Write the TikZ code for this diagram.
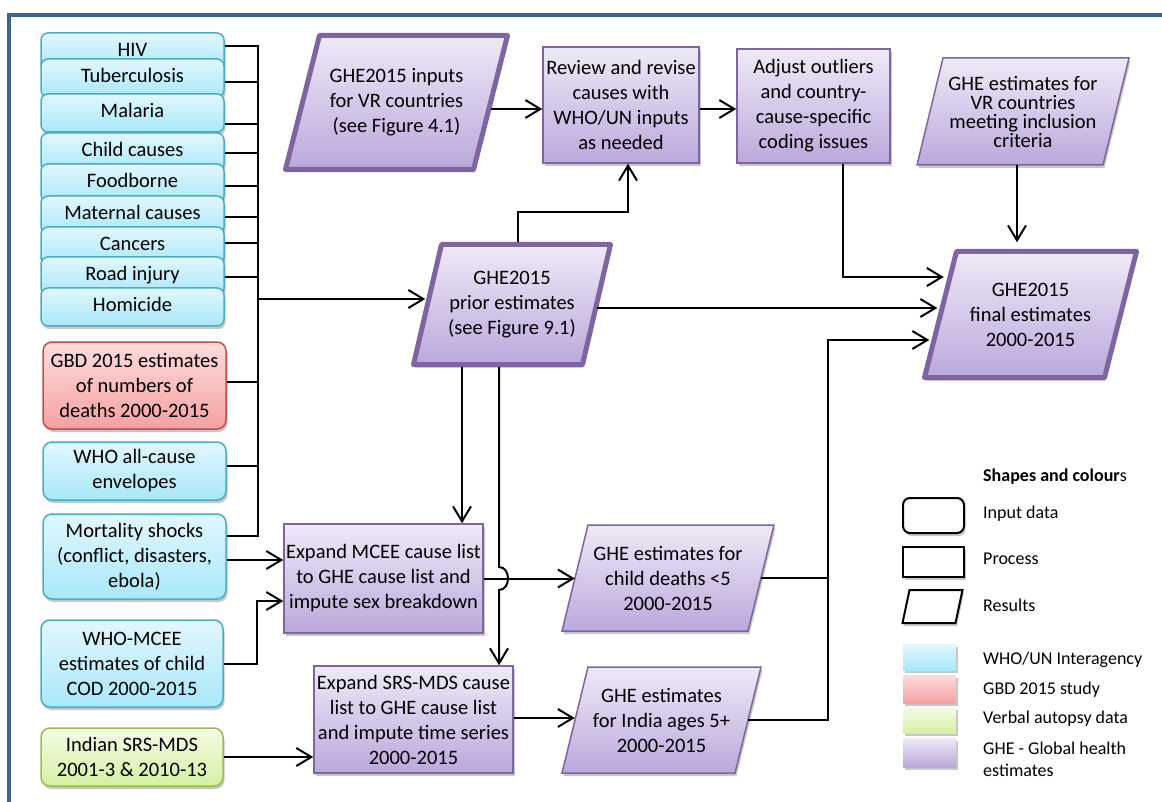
\documentclass[tikz,border=0pt]{standalone}
\usepackage{fontspec}
\setmainfont{Carlito}
\usetikzlibrary{arrows.meta,shadows,calc}
\definecolor{bluetop}{HTML}{E2F7FE}
\definecolor{bluebot}{HTML}{A8E8FA}
\definecolor{blueborder}{HTML}{4BACC6}
\definecolor{redtop}{HTML}{FFDCDC}
\definecolor{redbot}{HTML}{F4A1A1}
\definecolor{redborder}{HTML}{C0504D}
\definecolor{greentop}{HTML}{F4FCE6}
\definecolor{greenbot}{HTML}{D5F0A2}
\definecolor{greenborder}{HTML}{9BBB59}
\definecolor{purptop}{HTML}{EEEAF7}
\definecolor{purpbot}{HTML}{BBA8DC}
\definecolor{purpborder}{HTML}{8064A2}
\definecolor{framecol}{HTML}{3E6393}
\newcommand\mainsz{\fontsize{20.5}{25}\selectfont}
\newcommand\vrsz{\fontsize{20.5}{19}\selectfont}
\newcommand\legsz{\fontsize{18}{22}\selectfont}
% #1 path style, #2 node options, #3 name, #4 cx, #5 cy, #6 side, #7 height, #8 skew, #9 text
\newcommand\paranode[9]{%
  \path[#1] ({#4-#6/2+#8/2},{#5-#7/2}) -- ++(#6,0) -- ++(-#8,#7) -- ++(-#6,0) -- cycle;
  \node[base, minimum width=#6, minimum height=#7, #2] (#3) at (#4,#5) {#9};
}
\tikzset{
  base/.style={align=center, inner sep=0pt, font=\mainsz},
  shad/.style={drop shadow={shadow xshift=1.5pt, shadow yshift=-3pt, opacity=0.22, fill=black}},
  inbox/.style={base, rounded corners=9pt, line width=1.5pt, shad},
  bluebox/.style={inbox, draw=blueborder, top color=bluetop, bottom color=bluebot},
  redbox/.style={inbox, draw=redborder, top color=redtop, bottom color=redbot},
  greenbox/.style={inbox, draw=greenborder, top color=greentop, bottom color=greenbot},
  stackbox/.style={bluebox, rounded corners=7pt, minimum width=183, minimum height=38, text height=14pt, text depth=5pt},
  procbox/.style={base, draw=purpborder, line width=1.5pt, top color=purptop, bottom color=purpbot, shad},
  thickpara/.style={draw=purpborder, line width=5pt, line join=round, top color=purptop, bottom color=purpbot, shad},
  thinpara/.style={draw=purpborder, line width=1.5pt, top color=purptop, bottom color=purpbot, shad},
  conn/.style={line width=2pt, black},
  arr/.style={conn, -{Straight Barb[length=15pt,width=18pt,line width=2pt]}},
  frame/.style={line width=4pt, framecol},
  legshape/.style={draw=black, line width=2pt, fill=white, inner sep=0pt, shad},
  legpara/.style={draw=black, line width=2pt, fill=white, shad},
  leglabel/.style={font=\legsz, anchor=west, inner sep=0pt},
  swatch/.style={inner sep=0pt, minimum width=53, shad},
}
\begin{document}
\begin{tikzpicture}[x=1pt,y=-1pt]
\useasboundingbox (0,0) rectangle (1162,802);
\draw[frame] (7,15) -- (1162,15);
\draw[frame] (9,13) -- (9,802);

% ---- input stack
\node[stackbox] (hiv) at (132.5,52) {HIV};
\node[stackbox] (tb) at (132.5,78) {Tuberculosis};
\node[stackbox] (mal) at (132.5,113) {Malaria};
\node[stackbox] (cc) at (132.5,152) {Child causes};
\node[stackbox] (food) at (132.5,183) {Foodborne};
\node[stackbox] (mat) at (132.5,215) {Maternal causes};
\node[stackbox] (canc) at (132.5,246) {Cancers};
\node[stackbox] (road) at (132.5,276) {Road injury};
\node[stackbox] (hom) at (132.5,307) {Homicide};

\node[redbox, minimum width=183, minimum height=87] (gbd) at (134.5,385.5) {GBD 2015 estimates\\of numbers of\\deaths 2000-2015};
\node[bluebox, minimum width=183, minimum height=58] (allc) at (134.5,471) {WHO all-cause\\envelopes};
\node[bluebox, minimum width=183, minimum height=85] (shock) at (134.5,556.5) {Mortality shocks\\(conflict, disasters,\\ebola)};
\node[bluebox, minimum width=182, minimum height=87] (mceein) at (132,663.5) {WHO-MCEE\\estimates of child\\COD 2000-2015};
\node[greenbox, minimum width=182, minimum height=58] (srsin) at (132,757) {Indian SRS-MDS\\2001-3 \& 2010-13};

% ---- process boxes
\node[procbox, minimum width=156, minimum height=116] (review) at (621,105) {Review and revise\\causes with\\WHO/UN inputs\\as needed};
\node[procbox, minimum width=153, minimum height=114] (adjust) at (813.5,106) {Adjust outliers\\and country-\\cause-specific\\coding issues};
\node[procbox, minimum width=199, minimum height=109] (mcee) at (383.5,578.5) {Expand MCEE cause list\\to GHE cause list and\\impute sex breakdown};
\node[procbox, minimum width=199, minimum height=107] (srs) at (413.5,719.5) {Expand SRS-MDS cause\\list to GHE cause list\\and impute time series\\2000-2015};

% ---- results
\paranode{thickpara}{}{inputs}{396.5}{102.5}{188}{134}{34}{GHE2015 inputs\\for VR countries\\(see Figure 4.1)}
\paranode{thickpara}{}{prior}{512}{304.5}{169}{120}{28}{GHE2015\\prior estimates\\(see Figure 9.1)}
\paranode{thickpara}{}{final}{1030.5}{314.5}{180}{126}{32}{GHE2015\\final estimates\\2000-2015}
\paranode{thinpara}{font=\vrsz}{vrmeet}{1023}{111.5}{186}{107}{26}{GHE estimates for\\VR countries\\meeting inclusion\\criteria}
\paranode{thinpara}{}{child}{668}{578}{186}{106}{26}{GHE estimates for\\child deaths <5\\2000-2015}
\paranode{thinpara}{}{india}{661.5}{720}{173}{106}{26}{GHE estimates\\for India ages 5+\\2000-2015}

% ---- connectors
\coordinate (b1) at (258,46);
\coordinate (b2) at (258,536);
\coordinate (bp) at (258,299);
\coordinate (j) at (828,340);
\coordinate (p308) at (597,308);

\draw[conn] (hiv.east |- b1) -- (b1) -- (b2) -- (shock.east |- b2);
\foreach \n/\y in {tb/82, mal/124, cc/153, food/186, mat/217, canc/243, road/277, gbd/382, allc/466}
  \draw[conn] (\n.east |- 0,\y) -- (b1 |- 0,\y);
\draw[arr, shorten >=2pt] (bp) -- (bp -| prior.west);

\draw[arr] (inputs.east |- 0,109) -- (review.west |- 0,109);
\draw[arr] (review.east |- 0,109) -- (adjust.west |- 0,109);
\draw[arr, shorten <=2.5pt] (prior.north -| 518,0) -- (518,212) -- (628,212) -- (review.south -| 628,0);
\draw[arr] (adjust.south -| 843,0) -- (843,277) -- ($(843,277 -| final.west)+(3.5,0)$);
\draw[arr] (vrmeet.south -| 1017,0) -- ($(final.north -| 1017,0)+(0,-9)$);
\draw[arr, shorten >=3pt] (p308 -| prior.east) -- (p308 -| final.west);
\draw[arr, shorten <=2.5pt] (prior.south -| 462,0) -- (mcee.north -| 462,0);
\draw[arr, shorten <=2.5pt] (prior.south -| 499,0) -- (499,567) .. controls (511,567) and (511,590) .. (499,590) -- (srs.north -| 499,0);
\draw[arr] (mcee.east) -- (mcee.east -| child.west);
\draw[arr] (shock.east |- 0,560) -- (mcee.west |- 0,560);
\draw[arr] (mceein.east |- 0,664) -- (257,664) -- (257,601) -- (mcee.west |- 0,601);
\draw[arr] (srsin.east |- 0,757) -- (srs.west |- 0,757);
\draw[arr] (srs.east |- 0,718) -- (india.west |- 0,718);
\draw[conn] (child.east) -- (child.east -| j);
\draw[arr] (india.east) -- (india.east -| j) -- (j) -- ($(j -| final.west)+(-11,0)$);

% ---- legend
\node[font=\legsz, anchor=west, inner sep=0pt] (ltitle) at (983,477) {\textbf{Shapes and colour}s};
\node[legshape, rounded corners=7pt, minimum width=61, minimum height=35] (lin) at (933.5,515.5) {};
\node[leglabel] (lintxt) at (983,514) {Input data};
\node[legshape, minimum width=61, minimum height=30] (lproc) at (933.5,562) {};
\node[leglabel] (lproctxt) at (983,559) {Process};
\paranode{legpara}{}{lres}{932.5}{606.5}{53}{33}{7}{}
\node[leglabel] (lrestxt) at (983,605) {Results};
\node[swatch, minimum height=26, top color=bluetop, bottom color=bluebot] (sw1) at (929.5,657) {};
\node[swatch, minimum height=28, top color=redtop, bottom color=redbot] (sw2) at (929.5,689) {};
\node[swatch, minimum height=26, top color=greentop, bottom color=greenbot] (sw3) at (929.5,720) {};
\node[swatch, minimum height=29, top color=purptop, bottom color=purpbot] (sw4) at (929.5,752.5) {};
\node[leglabel] (sl1) at (983,660) {WHO/UN Interagency};
\node[leglabel] (sl2) at (983,690) {GBD 2015 study};
\node[leglabel] (sl3) at (983,719) {Verbal autopsy data};
\node[leglabel] (sl4) at (983,748) {GHE - Global health};
\node[leglabel] (sl5) at (983,770) {estimates};
\end{tikzpicture}
\end{document}
